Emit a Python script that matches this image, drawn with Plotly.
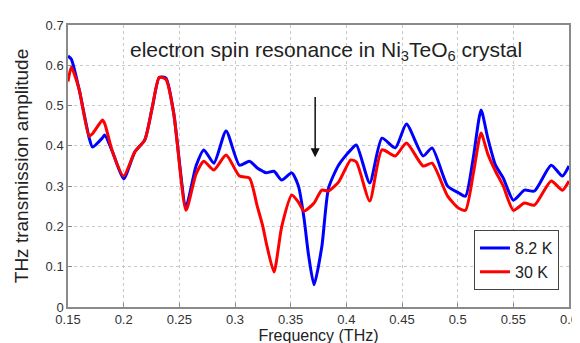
import plotly.graph_objects as go

freq = [0.150, 0.153, 0.160, 0.169, 0.172, 0.181, 0.183, 0.190, 0.200, 0.210,
        0.219, 0.226, 0.232, 0.238, 0.245, 0.256, 0.265, 0.272, 0.281, 0.292,
        0.304, 0.313, 0.320, 0.325, 0.328, 0.335, 0.342, 0.351, 0.357, 0.362,
        0.366, 0.371, 0.378, 0.384, 0.393, 0.404, 0.409, 0.421, 0.432, 0.444,
        0.454, 0.469, 0.477, 0.491, 0.501, 0.507, 0.514, 0.521, 0.527, 0.534,
        0.541, 0.550, 0.560, 0.569, 0.584, 0.594, 0.600]

amp_8K = [0.623, 0.615, 0.540, 0.420, 0.397, 0.420, 0.427, 0.385, 0.318, 0.385,
          0.415, 0.500, 0.570, 0.568, 0.480, 0.250, 0.350, 0.390, 0.357, 0.437,
          0.352, 0.362, 0.345, 0.337, 0.333, 0.337, 0.315, 0.333, 0.300, 0.220,
          0.130, 0.055, 0.150, 0.295, 0.352, 0.390, 0.402, 0.308, 0.419, 0.395,
          0.454, 0.375, 0.395, 0.300, 0.283, 0.275, 0.370, 0.489, 0.420, 0.352,
          0.320, 0.265, 0.290, 0.288, 0.352, 0.325, 0.350]

amp_30K = [0.560, 0.595, 0.540, 0.424, 0.430, 0.464, 0.455, 0.385, 0.325, 0.385,
           0.415, 0.500, 0.570, 0.565, 0.480, 0.240, 0.330, 0.362, 0.340, 0.377,
           0.325, 0.320, 0.250, 0.200, 0.160, 0.087, 0.200, 0.278, 0.260, 0.238,
           0.245, 0.258, 0.290, 0.288, 0.310, 0.365, 0.360, 0.263, 0.390, 0.375,
           0.407, 0.350, 0.357, 0.275, 0.245, 0.240, 0.330, 0.432, 0.380, 0.337,
           0.300, 0.240, 0.258, 0.253, 0.313, 0.290, 0.313]

x_ticks = [0.15, 0.2, 0.25, 0.3, 0.35, 0.4, 0.45, 0.5, 0.55, 0.6]
x_tick_labels = ["0.15", "0.2", "0.25", "0.3", "0.35", "0.4", "0.45", "0.5", "0.55", "0.6"]
y_ticks = [0, 0.1, 0.2, 0.3, 0.4, 0.5, 0.6, 0.7]
y_tick_labels = ["0", "0.1", "0.2", "0.3", "0.4", "0.5", "0.6", "0.7"]

series_names = ["8.2 K", "30 K"]
arrow_freq = 0.372
arrow_from, arrow_to = 0.525, 0.372

fig = go.Figure()
fig.add_trace(go.Scatter(x=freq, y=amp_8K, mode="lines", name=series_names[0],
                         line=dict(color="#0000ff", width=3, shape="spline", smoothing=0.6)))
fig.add_trace(go.Scatter(x=freq, y=amp_30K, mode="lines", name=series_names[1],
                         line=dict(color="#ff0000", width=3, shape="spline", smoothing=0.6)))

axis_common = dict(showline=True, linecolor="#8a8a8a", linewidth=1.5, mirror=True,
                   ticks="inside", ticklen=4, tickcolor="#8a8a8a",
                   showgrid=True, gridcolor="#c8c8c8", griddash="dot", gridwidth=1,
                   zeroline=False, tickfont=dict(family="Liberation Sans", size=13, color="#333"))

fig.update_xaxes(range=[0.15, 0.6], tickvals=x_ticks, ticktext=x_tick_labels,
                 title=dict(text="Frequency (THz)", standoff=2,
                            font=dict(family="Liberation Sans", size=16, color="#222")),
                 **axis_common)
fig.update_yaxes(range=[0, 0.7], tickvals=y_ticks, ticktext=y_tick_labels,
                 title=dict(text="THz transmission amplitude", standoff=12,
                            font=dict(family="Liberation Sans", size=19, color="#222")),
                 **axis_common)

fig.add_annotation(x=0.514, y=0.635, xref="paper", yref="y", yanchor="middle", showarrow=False,
                   text="electron spin resonance in Ni<sub>3</sub>TeO<sub>6</sub> crystal",
                   font=dict(family="Liberation Sans", size=21, color="#222"))
fig.add_annotation(x=arrow_freq, y=arrow_to, ax=arrow_freq, ay=arrow_from,
                   xref="x", yref="y", axref="x", ayref="y", text="",
                   showarrow=True, arrowhead=2, arrowsize=1.2, arrowwidth=1.5,
                   arrowcolor="#111")

fig.update_layout(
    width=580, height=343,
    margin=dict(l=60, r=10, t=16, b=44),
    paper_bgcolor="white", plot_bgcolor="white",
    font=dict(family="Liberation Sans", color="#222"),
    legend=dict(x=0.98, y=0.06, xanchor="right", yanchor="bottom",
                bgcolor="white", bordercolor="#444", borderwidth=1,
                font=dict(family="Liberation Sans", size=16, color="#222"),
                tracegroupgap=0, itemwidth=30),
    showlegend=True,
)

fig.write_html("out.html")
